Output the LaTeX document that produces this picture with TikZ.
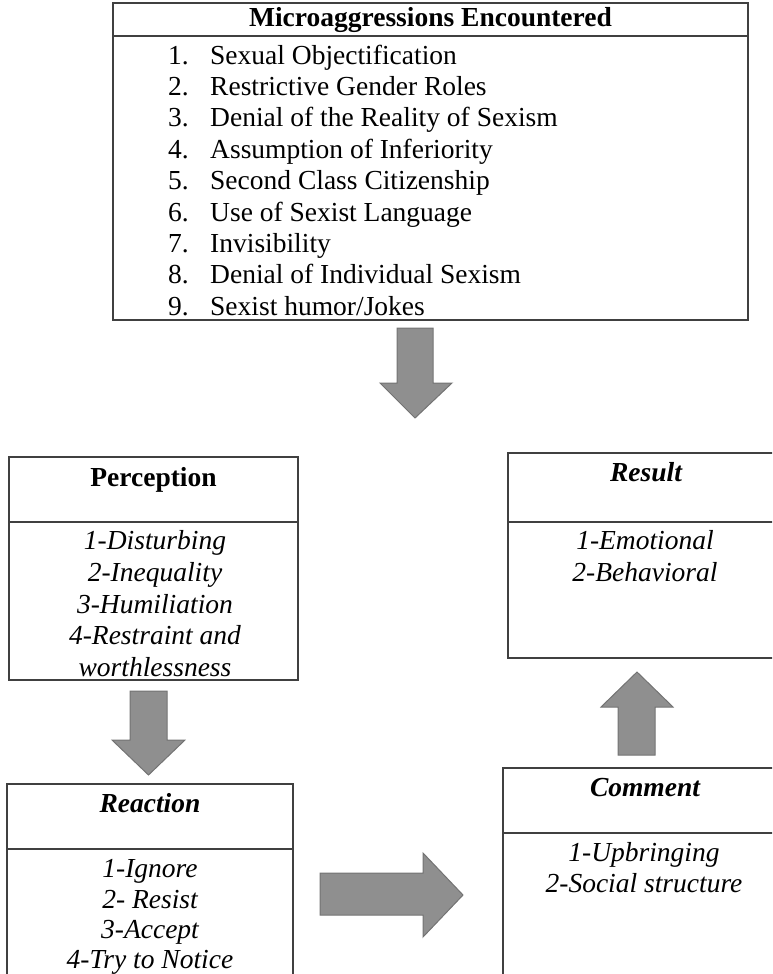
\documentclass[tikz,border=0pt]{standalone}
\usepackage{fontspec}
\setmainfont{Liberation Serif}
\begin{document}
\begin{tikzpicture}[x=1pt,y=-1pt,
  boxline/.style={draw=black!75,line width=1.4pt},
  blockarrow/.style={fill=black!44,draw=black!55,line width=1pt,line join=miter},
  txt/.style={inner sep=0pt,anchor=base,font=\fontsize{27.5}{32}\selectfont},
  hd/.style={txt,font=\fontsize{27.5}{32}\selectfont\bfseries},
  hdi/.style={txt,font=\fontsize{27.5}{32}\selectfont\bfseries\itshape},
  it/.style={txt,font=\fontsize{27.5}{32}\selectfont\itshape}]
\useasboundingbox (0,0) rectangle (772,974);
\begin{scope}
\clip (0,0) rectangle (772,974);
% boxes
\node[boxline,rectangle,inner sep=0pt,minimum width=635pt,minimum height=317pt] (top) at (430.5,161.5) {};
\draw[boxline] (top.west |- 0,36) coordinate (topsL) -- (top.east |- 0,36) coordinate (topsR);
\node[boxline,rectangle,inner sep=0pt,minimum width=289pt,minimum height=223pt] (perc) at (153.5,568.5) {};
\draw[boxline] (perc.west |- 0,522) -- (perc.east |- 0,522);
\node[boxline,rectangle,inner sep=0pt,minimum width=286pt,minimum height=220pt] (react) at (150,894) {};
\draw[boxline] (react.west |- 0,849) -- (react.east |- 0,849);
\node[boxline,rectangle,inner sep=0pt,minimum width=276pt,minimum height=205pt] (res) at (646,555.5) {};
\draw[boxline] (res.west |- 0,522) -- (res.east |- 0,522);
\node[boxline,rectangle,inner sep=0pt,minimum width=281pt,minimum height=230pt] (comm) at (643.5,883) {};
\draw[boxline] (comm.west |- 0,833) -- (comm.east |- 0,833);
\end{scope}
% texts
\node[hd] (tophd) at (430.5,27) {Microaggressions Encountered};
\foreach \n/\t [count=\i from 0] in {1/{Sexual Objectification},2/{Restrictive Gender Roles},3/{Denial of the Reality of Sexism},4/{Assumption of Inferiority},5/{Second Class Citizenship},6/{Use of Sexist Language},7/{Invisibility},8/{Denial of Individual Sexism},9/{Sexist humor/Jokes}}{
  \node[txt,anchor=base east] (num\n) at (189,64+31.4*\i) {\n.};
  \node[txt,anchor=base west] (item\n) at (210,64+31.4*\i) {\t};
}
\node[hd] (perchd) at (153.5,486) {Perception};
\node[it] (p1) at (155,549) {1-Disturbing};
\node[it] (p2) at (155,581) {2-Inequality};
\node[it] (p3) at (155,613) {3-Humiliation};
\node[it] (p4) at (155,644) {4-Restraint and};
\node[it] (p5) at (155,676) {worthlessness};
\node[hdi] (reshd) at (646,481) {Result};
\node[it] (r1) at (645,549) {1-Emotional};
\node[it] (r2) at (645,581) {2-Behavioral};
\node[hdi] (reacthd) at (150,812) {Reaction};
\node[it] (a1) at (150,877) {1-Ignore};
\node[it] (a2) at (150,908) {2- Resist};
\node[it] (a3) at (150,938) {3-Accept};
\node[it] (a4) at (150,968) {4-Try to Notice};
\node[hdi] (commhd) at (645,796) {Comment};
\node[it] (c1) at (644,861) {1-Upbringing};
\node[it] (c2) at (644,892) {2-Social structure};
% block arrows
\draw[blockarrow] (397,328) -- (433,328) -- (433,383) -- (452,383) -- (415,418) -- (380,383) -- (397,383) -- cycle;
\draw[blockarrow] (130,691) -- (167,691) -- (167,740) -- (185,740) -- (148.5,775) -- (112,740) -- (130,740) -- cycle;
\draw[blockarrow] (320,873) -- (423,873) -- (423,853) -- (463,895) -- (423,937) -- (423,915) -- (320,915) -- cycle;
\draw[blockarrow] (618,755) -- (655,755) -- (655,707) -- (673,707) -- (637,672) -- (601,707) -- (618,707) -- cycle;
\end{tikzpicture}
\end{document}
